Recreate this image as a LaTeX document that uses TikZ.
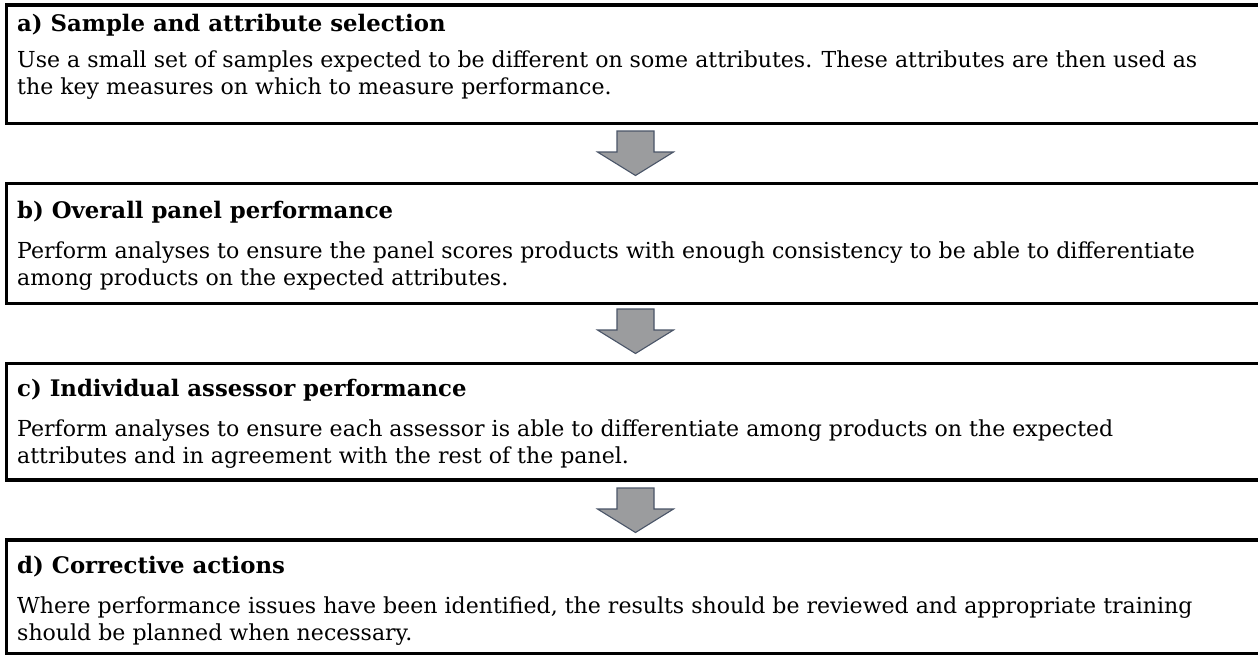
\documentclass[tikz,border=0pt]{standalone}
\usepackage{fontspec}
\setmainfont{DejaVu Serif}
\usetikzlibrary{calc}
\definecolor{arrowgray}{HTML}{9B9C9E}
\definecolor{arrowedge}{HTML}{4A5568}
\newcommand{\boxhead}[1]{{\fontsize{22.8}{27}\selectfont\bfseries #1}}
\tikzset{
  box/.style={draw=black, line width=3.5pt, minimum width=1300pt, anchor=north west, inner sep=0pt, outer sep=0pt},
  txt/.style={anchor=base west, align=left, inner sep=0pt, font=\fontsize{22.05}{27}\selectfont},
  flow/.style={fill=arrowgray, draw=arrowedge, line width=1.1pt, line join=miter},
  pics/downarrow/.style={code={
    \path[flow] (-18.5,0) -- (18.5,0) -- (18.5,-21) -- (38,-21) -- (0,-44.5) -- (-38,-21) -- (-18.5,-21) -- cycle;
  }}
}
\begin{document}
\begin{tikzpicture}[x=1pt,y=1pt]
\clip (0,0) rectangle (1258,-659);
\fill[white] (0,0) rectangle (1258,-659);

\node[box, minimum height=118.5pt] (boxa) at (6.5,-5) {};
\node[box, minimum height=120pt] (boxb) at (6.5,-183.5) {};
\node[box, minimum height=116.5pt] (boxc) at (6.5,-363.5) {};
\node[box, minimum height=113.5pt] (boxd) at (6.5,-540) {};

% base anchor = baseline of the last line
\node[txt] (ta) at (17,-94) {\boxhead{a) Sample and attribute selection}\\[9pt]
Use a small set of samples expected to be different on some attributes. These attributes are then used as\\
the key measures on which to measure performance.};
\node[txt] (tb) at (17,-285) {\boxhead{b) Overall panel performance}\\[13pt]
Perform analyses to ensure the panel scores products with enough consistency to be able to differentiate\\
among products on the expected attributes.};
\node[txt] (tc) at (17,-463) {\boxhead{c) Individual assessor performance}\\[13pt]
Perform analyses to ensure each assessor is able to differentiate among products on the expected\\
attributes and in agreement with the rest of the panel.};
\node[txt] (td) at (17,-640) {\boxhead{d) Corrective actions}\\[13pt]
Where performance issues have been identified, the results should be reviewed and appropriate training\\
should be planned when necessary.};

\coordinate (ab) at (635.5,-131);
\coordinate (bc) at (635.5,-309);
\coordinate (cd) at (635.5,-488);
\pic at (ab) {downarrow};
\pic at (bc) {downarrow};
\pic at (cd) {downarrow};
\end{tikzpicture}
\end{document}
